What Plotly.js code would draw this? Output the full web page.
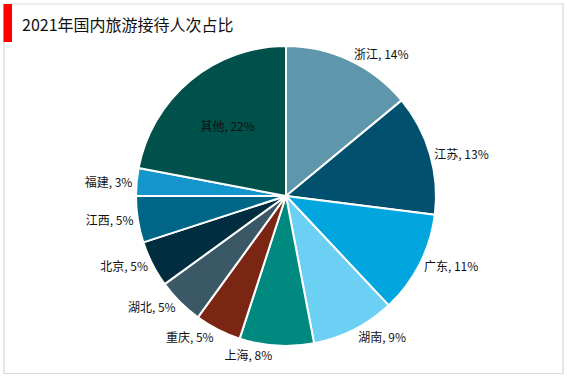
<!DOCTYPE html>
<html>
<head>
<meta charset="utf-8">
<script src="https://cdn.plot.ly/plotly-3.0.1.min.js"></script>
<style>html,body{margin:0;padding:0;background:#fff;}#chart{width:567px;height:378px;}</style>
</head>
<body>
<div id="chart"></div>
<script>
const categories = ["浙江", "江苏", "广东", "湖南", "上海", "重庆", "湖北", "北京", "江西", "福建", "其他"];
const shares = [14, 13, 11, 9, 8, 5, 5, 5, 5, 3, 22];
const sliceColors = ["#5E96AB", "#00506E", "#00A6DD", "#6CCFF4", "#00897F", "#7A2612", "#3A5866", "#002E40", "#006687", "#1495CC", "#00504B"];
const labelPositions = ["outside", "outside", "outside", "outside", "outside", "outside", "outside", "outside", "outside", "outside", "inside"];
const chartTitle = "2021年国内旅游接待人次占比";

const W = 567, H = 378;
const cx = 286, cy = 196, r = 150;

const trace = {
  type: "pie",
  labels: categories,
  values: shares,
  sort: false,
  direction: "clockwise",
  rotation: 0,
  marker: { colors: sliceColors, line: { color: "#ffffff", width: 2 } },
  texttemplate: "%{label}, %{value}%",
  textposition: labelPositions,
  insidetextorientation: "horizontal",
  textfont: { family: "Noto Sans CJK SC, sans-serif", size: 12, color: "#111111" },
  outsidetextfont: { family: "Noto Sans CJK SC, sans-serif", size: 12, color: "#111111" },
  insidetextfont: { family: "Noto Sans CJK SC, sans-serif", size: 12, color: "#111111" },
  hoverinfo: "none",
  showlegend: false,
  domain: { x: [(cx - r) / W, (cx + r) / W], y: [(H - cy - r) / H, (H - cy + r) / H] }
};

const layout = {
  width: W, height: H,
  margin: { l: 0, r: 0, t: 0, b: 0 },
  paper_bgcolor: "#ffffff",
  showlegend: false,
  title: { text: chartTitle, x: 22 / W, xanchor: "left", y: 1 - 25 / H, yanchor: "middle", font: { family: "Noto Sans CJK SC, sans-serif", size: 16, color: "#111111" } },
  shapes: [
    { type: "rect", xref: "paper", yref: "paper", x0: 4 / W, x1: 563 / W, y0: 1 - 373.5 / H, y1: 1 - 4 / H, line: { color: "#D9D9D9", width: 1.2 }, fillcolor: "rgba(0,0,0,0)" },
    { type: "rect", xref: "paper", yref: "paper", x0: 3.5 / W, x1: 12 / W, y0: 1 - 42 / H, y1: 1 - 4 / H, line: { width: 0 }, fillcolor: "#FF0000" }
  ]
};

Plotly.newPlot("chart", [trace], layout, { staticPlot: true, displayModeBar: false });
</script>
</body>
</html>
